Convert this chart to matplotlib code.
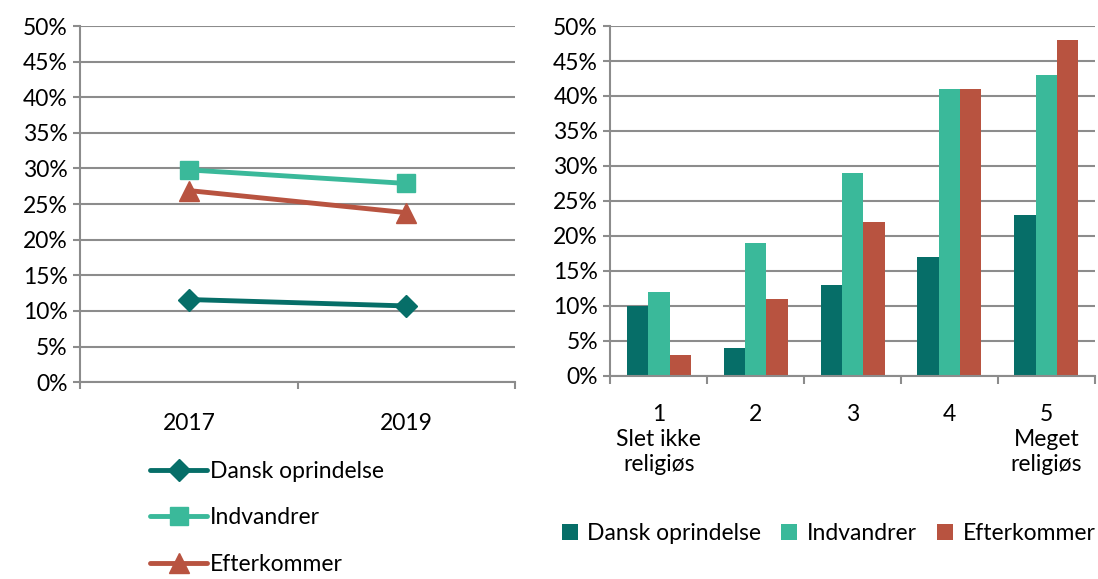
import matplotlib.pyplot as plt
import numpy as np

plt.rcParams['font.family'] = ['Lato', 'DejaVu Sans']

# left panel: line chart by year
years = ['2017', '2019']
dansk_yr = [11.6, 10.7]
indv_yr = [29.8, 27.9]
efter_yr = [26.9, 23.8]

# right panel: bars by religiosity
rel_labels = ['1\nSlet ikke\nreligiøs', '2', '3', '4', '5\nMeget\nreligiøs']
dansk_rel = [10, 4, 13, 17, 23]
indv_rel = [12, 19, 29, 41, 43]
efter_rel = [3, 11, 22, 41, 48]

names = ['Dansk oprindelse', 'Indvandrer', 'Efterkommer']
colors = ['#066E68', '#3AB99A', '#B85340']
grid_c = '#8C8C8C'
fs = 16.5

fig = plt.figure(figsize=(10.98, 5.79), dpi=100)

def style_axis(ax):
    ax.set_ylim(0, 50)
    ax.set_yticks(np.arange(0, 51, 5))
    ax.set_yticklabels([f'{v}%' for v in range(0, 51, 5)], fontsize=fs)
    ax.yaxis.grid(True, color=grid_c, linewidth=1.5)
    ax.set_axisbelow(True)
    for s in ['top', 'right']:
        ax.spines[s].set_visible(False)
    for s in ['left', 'bottom']:
        ax.spines[s].set_color(grid_c)
        ax.spines[s].set_linewidth(1.5)
    ax.tick_params(axis='y', length=5, color=grid_c, width=1.5, pad=4)

# ---- left
ax1 = fig.add_axes([0.073, 0.340, 0.396, 0.615])
style_axis(ax1)
x = np.arange(len(years))
markers = ['D', 's', '^']
msizes = [11, 13, 14]
for vals, nm, c, m, ms in zip([dansk_yr, indv_yr, efter_yr], names, colors, markers, msizes):
    ax1.plot(x, vals, color=c, lw=3.5, marker=m, ms=ms, label=nm, solid_capstyle='round')
ax1.set_xlim(-0.5, 1.5)
ax1.set_xticks(x)
ax1.set_xticklabels(years, fontsize=fs)
ax1.set_xticks([-0.5, 0.5, 1.5], minor=True)
ax1.tick_params(axis='x', which='major', length=0, pad=22)
ax1.tick_params(axis='x', which='minor', length=5, color=grid_c, width=1.5)
ax1.legend(loc='upper left', bbox_to_anchor=(0.14, -0.195), frameon=False, fontsize=fs,
           labelspacing=1.12, handlelength=2.5, handletextpad=0.1, borderaxespad=0)

# ---- right
ax2 = fig.add_axes([0.556, 0.351, 0.441, 0.604])
style_axis(ax2)
xr = np.arange(len(rel_labels))
w = 0.22
for i, (vals, nm, c) in enumerate(zip([dansk_rel, indv_rel, efter_rel], names, colors)):
    ax2.bar(xr + (i - 1) * w, vals, width=w, color=c, label=nm)
ax2.set_xlim(-0.5, len(rel_labels) - 0.5)
ax2.set_xticks(xr)
ax2.set_xticklabels(rel_labels, fontsize=fs, linespacing=1.25, va='top')
ax2.set_xticks(np.arange(-0.5, len(rel_labels)), minor=True)
ax2.tick_params(axis='x', which='major', length=0, pad=20)
ax2.tick_params(axis='x', which='minor', length=6, color=grid_c, width=1.5)
ax2.legend(loc='upper center', bbox_to_anchor=(0.45, -0.395), ncol=3, frameon=False,
           fontsize=fs, handlelength=0.7, handleheight=0.7, handletextpad=0.4,
           columnspacing=0.9, borderaxespad=0)

fig.savefig('out.png', dpi=100)
